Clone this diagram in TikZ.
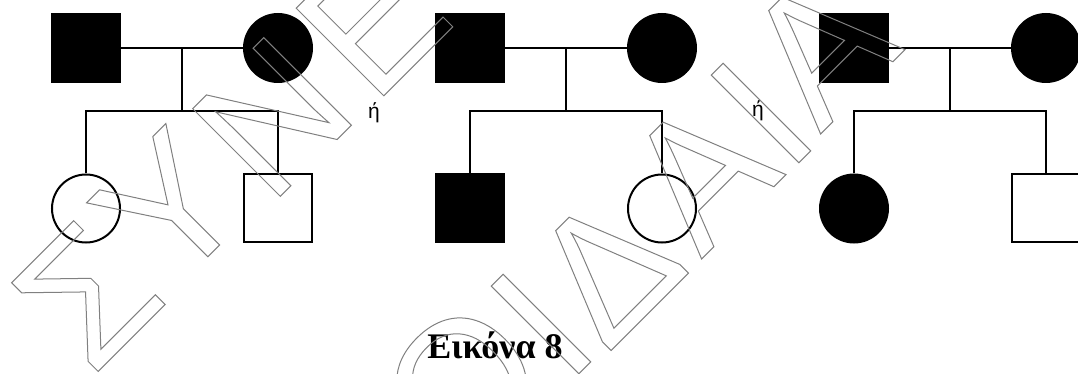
\documentclass[tikz,border=0pt]{standalone}
\usepackage{fontspec}
\setmainfont{Liberation Serif}
\newfontfamily\sansgreek{Liberation Sans}
\usepackage{tikz}
\definecolor{wmgray}{gray}{0.5}
\newcommand{\outlinetext}[1]{\special{pdf:literal direct 0.5 w 1 Tr}#1\special{pdf:literal direct 0 Tr}}

\begin{document}
\begin{tikzpicture}[node distance=96pt, line width=1pt,
  male/.style={draw, rectangle, minimum size=34pt, inner sep=0pt},
  female/.style={draw, circle, minimum size=34pt, inner sep=0pt},
  affected/.style={fill=black},
  wmark/.style={text=wmgray, rotate=45, inner sep=0pt, font=\sansgreek\fontsize{90}{90}\selectfont}]
\useasboundingbox (0,0) rectangle (539pt,-187pt);
% parents
\node[male, affected] (F1) at (43pt,-24pt) {};
\node[female, affected, right of=F1] (M1) {};
\node[male, affected, right of=M1] (F2) {};
\node[female, affected, right of=F2] (M2) {};
\node[male, affected, right of=M2] (F3) {};
\node[female, affected, right of=F3] (M3) {};
% children
\node[female, below of=F1, node distance=80.25pt] (C1) {};
\node[male, below of=M1, node distance=80.25pt] (C2) {};
\node[male, affected, below of=F2, node distance=80.25pt] (C3) {};
\node[female, below of=M2, node distance=80.25pt] (C4) {};
\node[female, affected, below of=F3, node distance=80.25pt] (C5) {};
\node[male, below of=M3, node distance=80.25pt] (C6) {};
% couples and sibships
\draw (F1) -- (M1) coordinate[midway] (U1);
\coordinate[below of=U1, node distance=31.5pt] (D1);
\draw (U1) -- (D1);
\draw (C1) |- (D1) -| (C2);
\draw (F2) -- (M2) coordinate[midway] (U2);
\coordinate[below of=U2, node distance=31.5pt] (D2);
\draw (U2) -- (D2);
\draw (C3) |- (D2) -| (C4);
\draw (F3) -- (M3) coordinate[midway] (U3);
\coordinate[below of=U3, node distance=31.5pt] (D3);
\draw (U3) -- (D3);
\draw (C5) |- (D3) -| (C6);
% "or" between the pedigrees
\path (M1) -- (F2) coordinate[midway] (G1);
\node[below of=G1, node distance=32.5pt, font=\sansgreek\fontsize{10.5}{12}\selectfont] (or1) {ή};
\path (M2) -- (F3) coordinate[midway] (G2);
\node[below of=G2, node distance=31.5pt, font=\sansgreek\fontsize{10.5}{12}\selectfont] (or2) {ή};
% caption
\node[font=\bfseries\fontsize{18}{20}\selectfont] (caption) at (247.5pt,-172.5pt) {Εικόνα 8};
% watermark
\foreach \ch/\wx/\wy [count=\i] in {Σ/43.5/-147.5, Υ/85/-103.5, Ν/136/-58.5, Ε/186/-10,
    Ο/231/-191.5, Ι/270.5/-162, Δ/303/-134, Α/350/-86.5, Ι/380.5/-56.5, Α/409.5/-24}
  \node[wmark] (W\i) at (\wx pt,\wy pt) {\outlinetext{\ch}};
\end{tikzpicture}
\end{document}
